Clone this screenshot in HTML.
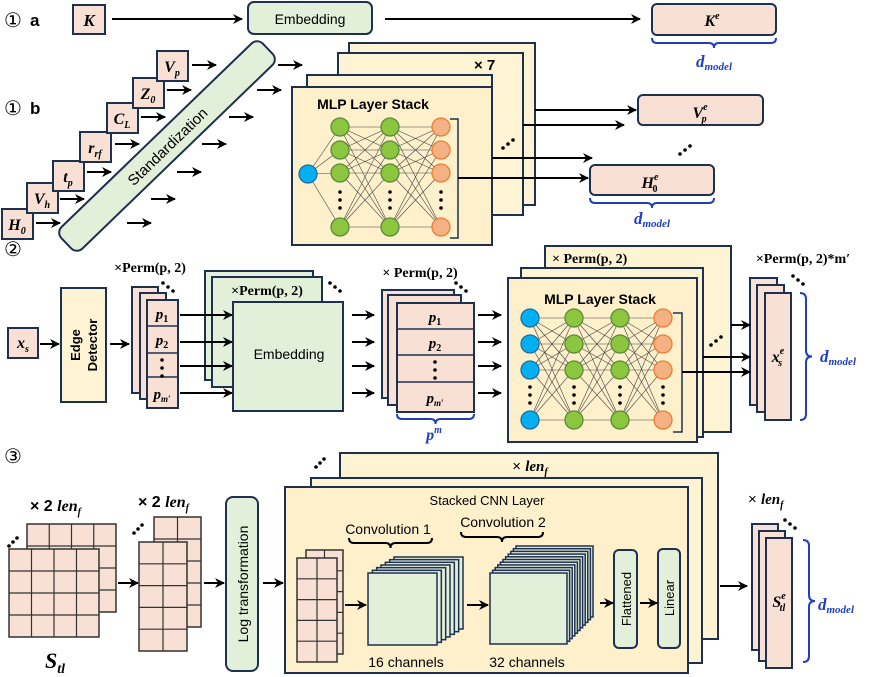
<!DOCTYPE html>
<html><head><meta charset="utf-8"><style>
html,body{margin:0;padding:0;background:#fff;}
svg{display:block;font-family:"Liberation Sans",sans-serif;}
.b{font-weight:bold;}
.m{font-family:"Liberation Serif",serif;font-weight:bold;font-style:italic;}
.n{font-family:"Liberation Serif",serif;font-weight:bold;}
.bl{fill:#1f3fbf;}
</style></head><body>
<svg id="s" width="872" height="677" viewBox="0 0 872 677" xmlns="http://www.w3.org/2000/svg">
<defs><marker id="a" markerWidth="10" markerHeight="10" refX="9" refY="5" orient="auto" markerUnits="userSpaceOnUse"><path d="M0,0 L10,5 L0,10 L3,5 Z" fill="#000"/></marker></defs>
<g id="g" stroke-linejoin="round"></g>

<text x="4" y="27" font-size="20">①</text><text x="30" y="26" font-size="17" class="b">a</text>
<rect x="73" y="5" width="32" height="29" fill="#f8e1d4" stroke="#1e3050" stroke-width="2"/>
<text x="89" y="26" font-size="17" class="m" text-anchor="middle">K</text>
<line x1="112" y1="19" x2="242" y2="19" stroke="#000" stroke-width="2" marker-end="url(#a)"/>
<rect x="248" y="2" width="124" height="32" rx="6" fill="#e2efd9" stroke="#1e3050" stroke-width="2"/>
<text x="310" y="24" font-size="14" text-anchor="middle">Embedding</text>
<line x1="385" y1="19" x2="640" y2="19" stroke="#000" stroke-width="2" marker-end="url(#a)"/>
<rect x="652" y="4" width="124" height="31" rx="5" fill="#f8e1d4" stroke="#1e3050" stroke-width="2"/>
<text x="712" y="26" font-size="16" class="m" text-anchor="middle">K<tspan font-size="10" dy="-7">e</tspan></text>
<text x="714" y="67" font-size="17" class="m bl" text-anchor="middle">d<tspan font-size="11" dy="3">model</tspan></text>

<text x="4" y="115" font-size="20">①</text><text x="30" y="114" font-size="17" class="b">b</text>
<g transform="translate(167,146) rotate(-44)">
<rect x="-140" y="-15" width="280" height="30" rx="8" fill="#e2efd9" stroke="#1e3050" stroke-width="2"/>
<text x="0" y="6" font-size="15" text-anchor="middle">Standardization</text></g>

<rect x="349" y="43" width="186" height="162" fill="#fef3d2" stroke="#1e3050" stroke-width="2"/>
<rect x="338" y="53" width="185" height="162" fill="#fef3d2" stroke="#1e3050" stroke-width="2"/>
<text x="474" y="70" font-size="15" class="b">× 7</text>
<rect x="307" y="75" width="185" height="160" fill="#fef3d2" stroke="#1e3050" stroke-width="2"/>
<rect x="292" y="87" width="200" height="158" fill="#fdf0cb" stroke="#1e3050" stroke-width="2"/>
<text x="373" y="109" font-size="14" class="b" text-anchor="middle">MLP Layer Stack</text>

<rect x="638" y="95" width="125" height="30" rx="5" fill="#f8e1d4" stroke="#1e3050" stroke-width="2"/>
<text x="700" y="118" font-size="16" class="m" text-anchor="middle">V<tspan font-size="10" dy="-8">e</tspan><tspan font-size="10" dx="-6" dy="12">p</tspan></text>
<rect x="590" y="165" width="124" height="30" rx="5" fill="#f8e1d4" stroke="#1e3050" stroke-width="2"/>
<text x="650" y="188" font-size="16" class="m" text-anchor="middle">H<tspan font-size="10" dy="-8">e</tspan><tspan font-size="10" dx="-6" dy="12" font-style="normal">0</tspan></text>
<text x="652" y="224" font-size="17" class="m bl" text-anchor="middle">d<tspan font-size="11" dy="3">model</tspan></text>

<text x="4" y="256" font-size="20">②</text>
<rect x="8" y="328" width="30" height="30" fill="#f8e1d4" stroke="#1e3050" stroke-width="2"/>
<text x="23" y="348" font-size="16" class="m" text-anchor="middle">x<tspan font-size="10" dy="4">s</tspan></text>
<rect x="61" y="288" width="45" height="114" fill="#fef3d2" stroke="#1e3050" stroke-width="2"/>
<text transform="translate(80,345) rotate(-90)" font-size="13" class="b" text-anchor="middle">Edge</text>
<text transform="translate(97,345) rotate(-90)" font-size="13" class="b" text-anchor="middle">Detector</text>
<text x="150" y="272" font-size="14" class="n" text-anchor="middle">×Perm(p, 2)</text>
<rect x="132" y="287" width="26" height="106" fill="#f8e1d4" stroke="#1e3050" stroke-width="2"/>
<rect x="140" y="293" width="26" height="106" fill="#f8e1d4" stroke="#1e3050" stroke-width="2"/>
<rect x="147" y="300" width="31" height="108" fill="#f8e1d4" stroke="#1e3050" stroke-width="2"/>
<line x1="147" y1="326" x2="178" y2="326" stroke="#1e3050" stroke-width="1.5"/>
<line x1="147" y1="353" x2="178" y2="353" stroke="#1e3050" stroke-width="1.5"/>
<line x1="147" y1="377" x2="178" y2="377" stroke="#1e3050" stroke-width="1.5"/>
<text x="162" y="319" font-size="15" class="m" text-anchor="middle">p<tspan font-size="10" dy="3" font-style="normal">1</tspan></text>
<text x="162" y="345" font-size="15" class="m" text-anchor="middle">p<tspan font-size="10" dy="3" font-style="normal">2</tspan></text>
<text x="162" y="399" font-size="15" class="m" text-anchor="middle">p<tspan font-size="9" dy="3">m′</tspan></text>

<rect x="205" y="271" width="108" height="109" fill="#e2efd9" stroke="#1e3050" stroke-width="2"/>
<rect x="212" y="277" width="110" height="110" fill="#e2efd9" stroke="#1e3050" stroke-width="2"/>
<text x="267" y="295" font-size="14" class="n" text-anchor="middle">×Perm(p, 2)</text>
<rect x="233" y="302" width="110" height="109" fill="#e2efd9" stroke="#1e3050" stroke-width="2"/>
<text x="289" y="359" font-size="14" text-anchor="middle">Embedding</text>

<text x="420" y="277" font-size="14" class="n" text-anchor="middle">× Perm(p, 2)</text>
<rect x="382" y="290" width="72" height="108" fill="#f8e1d4" stroke="#1e3050" stroke-width="2"/>
<rect x="388" y="295" width="73" height="110" fill="#f8e1d4" stroke="#1e3050" stroke-width="2"/>
<rect x="397" y="303" width="77" height="109" fill="#f8e1d4" stroke="#1e3050" stroke-width="2"/>
<line x1="397" y1="329" x2="474" y2="329" stroke="#1e3050" stroke-width="1.5"/>
<line x1="397" y1="355" x2="474" y2="355" stroke="#1e3050" stroke-width="1.5"/>
<line x1="397" y1="382" x2="474" y2="382" stroke="#1e3050" stroke-width="1.5"/>
<text x="435" y="322" font-size="15" class="m" text-anchor="middle">p<tspan font-size="10" dy="3" font-style="normal">1</tspan></text>
<text x="435" y="348" font-size="15" class="m" text-anchor="middle">p<tspan font-size="10" dy="3" font-style="normal">2</tspan></text>
<text x="435" y="403" font-size="15" class="m" text-anchor="middle">p<tspan font-size="9" dy="3">m′</tspan></text>
<text x="434" y="440" font-size="16" class="m bl" text-anchor="middle">p<tspan font-size="10" dy="-7">m</tspan></text>

<rect x="545" y="246" width="186" height="186" fill="#fef3d2" stroke="#1e3050" stroke-width="2"/>
<text x="552" y="263" font-size="14" class="n">× Perm(p, 2)</text>
<rect x="521" y="268" width="182" height="169" fill="#fef3d2" stroke="#1e3050" stroke-width="2"/>
<rect x="508" y="278" width="189" height="164" fill="#fdf0cb" stroke="#1e3050" stroke-width="2"/>
<text x="600" y="304" font-size="14" class="b" text-anchor="middle">MLP Layer Stack</text>

<text x="803" y="263" font-size="14" class="n" text-anchor="middle">×Perm(p, 2)*m′</text>
<rect x="750" y="278" width="27" height="127" fill="#f8e1d4" stroke="#1e3050" stroke-width="2"/>
<rect x="757" y="285" width="27" height="127" fill="#f8e1d4" stroke="#1e3050" stroke-width="2"/>
<rect x="765" y="293" width="26" height="127" fill="#f8e1d4" stroke="#1e3050" stroke-width="2"/>
<text x="778" y="362" font-size="16" class="m" text-anchor="middle">x<tspan font-size="10" dy="-8">e</tspan><tspan font-size="10" dx="-6" dy="12">s</tspan></text>
<text x="820" y="362" font-size="17" class="m bl">d<tspan font-size="11" dy="3">model</tspan></text>

<text x="4" y="463" font-size="20">③</text>
<text x="30" y="511" font-size="16"><tspan class="b">× 2 </tspan><tspan class="m">len<tspan font-size="10" dy="4">f</tspan></tspan></text>
<text x="138" y="507" font-size="16"><tspan class="b">× 2 </tspan><tspan class="m">len<tspan font-size="10" dy="4">f</tspan></tspan></text>
<text x="45" y="668" font-size="22" class="m">S<tspan font-size="14" dy="5">tl</tspan></text>
<rect x="226" y="497" width="32" height="174" rx="7" fill="#e2efd9" stroke="#1e3050" stroke-width="2"/>
<text transform="translate(248,584) rotate(-90)" font-size="14" text-anchor="middle">Log transformation</text>

<rect x="340" y="453" width="378" height="186" fill="#fef3d2" stroke="#1e3050" stroke-width="2"/>
<text x="530" y="471" font-size="15" text-anchor="middle"><tspan>× </tspan><tspan class="m">len<tspan font-size="10" dy="4">f</tspan></tspan></text>
<rect x="311" y="478" width="391" height="185" fill="#fef3d2" stroke="#1e3050" stroke-width="2"/>
<rect x="285" y="487" width="403" height="186" fill="#fdf0cb" stroke="#1e3050" stroke-width="2"/>
<text x="487" y="505" font-size="13" text-anchor="middle">Stacked CNN Layer</text>
<text x="388" y="534" font-size="14" text-anchor="middle">Convolution 1</text>
<text x="503" y="527" font-size="14" text-anchor="middle">Convolution 2</text>
<text x="406" y="667" font-size="14" text-anchor="middle">16 channels</text>
<text x="527" y="667" font-size="14" text-anchor="middle">32 channels</text>
<rect x="614" y="550" width="23" height="98" rx="5" fill="#e2efd9" stroke="#1e3050" stroke-width="2"/>
<text transform="translate(631,599) rotate(-90)" font-size="13" text-anchor="middle">Flattened</text>
<rect x="658" y="549" width="22" height="99" rx="5" fill="#e2efd9" stroke="#1e3050" stroke-width="2"/>
<text transform="translate(674,598) rotate(-90)" font-size="13" text-anchor="middle">Linear</text>

<text x="748" y="504" font-size="15"><tspan>× </tspan><tspan class="m">len<tspan font-size="10" dy="4">f</tspan></tspan></text>
<rect x="752" y="524" width="26" height="126" fill="#f8e1d4" stroke="#1e3050" stroke-width="2"/>
<rect x="759" y="531" width="26" height="130" fill="#f8e1d4" stroke="#1e3050" stroke-width="2"/>
<rect x="766" y="538" width="26" height="130" fill="#f8e1d4" stroke="#1e3050" stroke-width="2"/>
<text x="779" y="607" font-size="16" class="m" text-anchor="middle">S<tspan font-size="10" dy="-8">e</tspan><tspan font-size="10" dx="-6" dy="12">tl</tspan></text>
<text x="818" y="610" font-size="17" class="m bl">d<tspan font-size="11" dy="3">model</tspan></text>
</svg>
<script>
var g=document.getElementById('g'),NS='http://www.w3.org/2000/svg';
var s=document.getElementById('s');
function el(t,a,p){var e=document.createElementNS(NS,t);for(var k in a)e.setAttribute(k,a[k]);(p||g).appendChild(e);return e;}
function ar(x1,y,x2){el('line',{x1:x1,y1:y,x2:x2,y2:y,stroke:'#000','stroke-width':2,'marker-end':'url(#a)'},s);}
function dot(x,y,r){el('circle',{cx:x,cy:y,r:r||1.8,fill:'#000'},s);}
function dots3(x,y,dx,dy){for(var i=0;i<3;i++)dot(x+i*dx,y+i*dy);}
function box(x,y,t,sub){el('rect',{x:x,y:y,width:31,height:30,fill:'#f8e1d4',stroke:'#1e3050','stroke-width':2},s);
 var T=el('text',{x:x+15,y:y+21,'font-size':16,'class':'m','text-anchor':'middle'},s);T.textContent=t;
 if(sub){var ts=el('tspan',{'font-size':10,dy:4},T);ts.textContent=sub;}}
function braceH(x1,x2,y,c){var m=(x1+x2)/2,d=5;el('path',{d:'M'+x1+' '+y+' Q'+x1+' '+(y+d)+' '+(x1+d)+' '+(y+d)+' L'+(m-d)+' '+(y+d)+' Q'+m+' '+(y+d)+' '+m+' '+(y+2*d)+' Q'+m+' '+(y+d)+' '+(m+d)+' '+(y+d)+' L'+(x2-d)+' '+(y+d)+' Q'+x2+' '+(y+d)+' '+x2+' '+y,fill:'none',stroke:c||'#1f3fbf','stroke-width':2},s);}
function braceV(x,y1,y2,c,w){var m=(y1+y2)/2,d=w||6;el('path',{d:'M'+x+' '+y1+' Q'+(x+d)+' '+y1+' '+(x+d)+' '+(y1+d)+' L'+(x+d)+' '+(m-d)+' Q'+(x+d)+' '+m+' '+(x+2*d)+' '+m+' Q'+(x+d)+' '+m+' '+(x+d)+' '+(m+d)+' L'+(x+d)+' '+(y2-d)+' Q'+(x+d)+' '+y2+' '+x+' '+y2,fill:'none',stroke:c||'#1f3fbf','stroke-width':2},s);}
function net(L,r){
 for(var i=0;i<L.length-1;i++)L[i].ys.forEach(function(a){L[i+1].ys.forEach(function(b){el('line',{x1:L[i].x,y1:a,x2:L[i+1].x,y2:b,stroke:'#444','stroke-width':0.6},s);});});
 var C={b:['#00b0f0','#1e6fa0'],g:['#8cc63f','#5a8a3a'],o:['#f4b183','#ed7d31']};
 L.forEach(function(l){l.ys.forEach(function(y){el('circle',{cx:l.x,cy:y,r:r,fill:C[l.t][0],stroke:C[l.t][1],'stroke-width':1.3},s);});
  if(l.d)dots3(l.x,l.d-8,0,8);});}
var B=[[2,209,'H','0',223,36,127],[27,183,'V','h',199,60,151],[53,161,'t','p',172,87,177],[80,132,'r','rf',144,115,202],[107,103,'C','L',117,141,229],[133,78,'Z','0',90,167,257],[157,51,'V','p',65,192,278]];
B.forEach(function(b){box(b[0],b[1],b[2],b[3]);ar(b[5],b[4],b[5]+24);ar(b[6],b[4],b[6]+24);});
var y1=[127,150,173,227];
net([{x:308,ys:[174],t:'b'},{x:340,ys:y1,t:'g',d:200},{x:390,ys:y1,t:'g',d:200},{x:441,ys:y1,t:'o',d:200}],9);
el('path',{d:'M450 119 L458 119 L458 238 L450 238',fill:'none',stroke:'#1e3050','stroke-width':1.5},s);
ar(535,110,636);ar(523,125,624);ar(492,158,592);ar(458,178,588);
dots3(503,148,5,-4);dots3(680,154,5,-4);
braceH(652,776,38);braceH(590,714,198);
ar(40,344,59);ar(110,344,129);dots3(163,283,5,4);
[315,342,366,393].forEach(function(y){ar(180,y,232);ar(352,y,374);ar(478,y,501);});
dots3(162,360,0,8);dots3(435,362,0,8);
dots3(330,283,5,4);dots3(456,283,5,4);dots3(793,276,5,4);
braceH(397,474,414);
var y2=[318,344,370,420];
net([{x:530,ys:y2,t:'b',d:395},{x:574,ys:y2,t:'g',d:395},{x:620,ys:y2,t:'g',d:395},{x:663,ys:y2,t:'o',d:395}],9);
el('path',{d:'M673 313 L682 313 L682 432 L673 432',fill:'none',stroke:'#1e3050','stroke-width':1.5},s);
ar(731,325,750);ar(703,357,750);ar(682,372,750);
dots3(711,345,5,-4);
braceV(800,293,420);
function grid(x,y,w,h,c,r){el('rect',{x:x,y:y,width:w,height:h,fill:'#f8e1d4',stroke:'#333','stroke-width':1.5},s);
 for(var i=1;i<c;i++)el('line',{x1:x+i*w/c,y1:y,x2:x+i*w/c,y2:y+h,stroke:'#333','stroke-width':1.2},s);
 for(var j=1;j<r;j++)el('line',{x1:x,y1:y+j*h/r,x2:x+w,y2:y+j*h/r,stroke:'#333','stroke-width':1.2},s);}
grid(27,524,89,88,4,4);grid(9,549,90,88,4,4);dots3(9,546,4,-4);
grid(154,517,47,110,2,5);grid(139,542,48,109,2,5);dots3(134,533,4,-4);
ar(118,583,138);ar(204,583,224);ar(263,583,283);
dots3(316,467,4,-4);
grid(306,550,37,104,2,5);grid(297,558,40,104,2,5);
ar(345,605,366);ar(467,605,488);ar(600,603,613);ar(640,603,657);
for(var i=6;i>=0;i--)el('rect',{x:368+i*26/6,y:573-i*16/6,width:69,height:72,fill:'#e2efd9',stroke:'#1e3050','stroke-width':1.5},s);
for(var i=10;i>=0;i--)el('rect',{x:490+i*26/10,y:573-i*27/10,width:77,height:71,fill:'#e2efd9',stroke:'#1e3050','stroke-width':1.5},s);
braceH(349,432,538,'#000');braceH(461,543,532,'#000');
ar(720,586,747);dots3(785,520,5,4);
braceV(803,540,662);
</script>
</body></html>
